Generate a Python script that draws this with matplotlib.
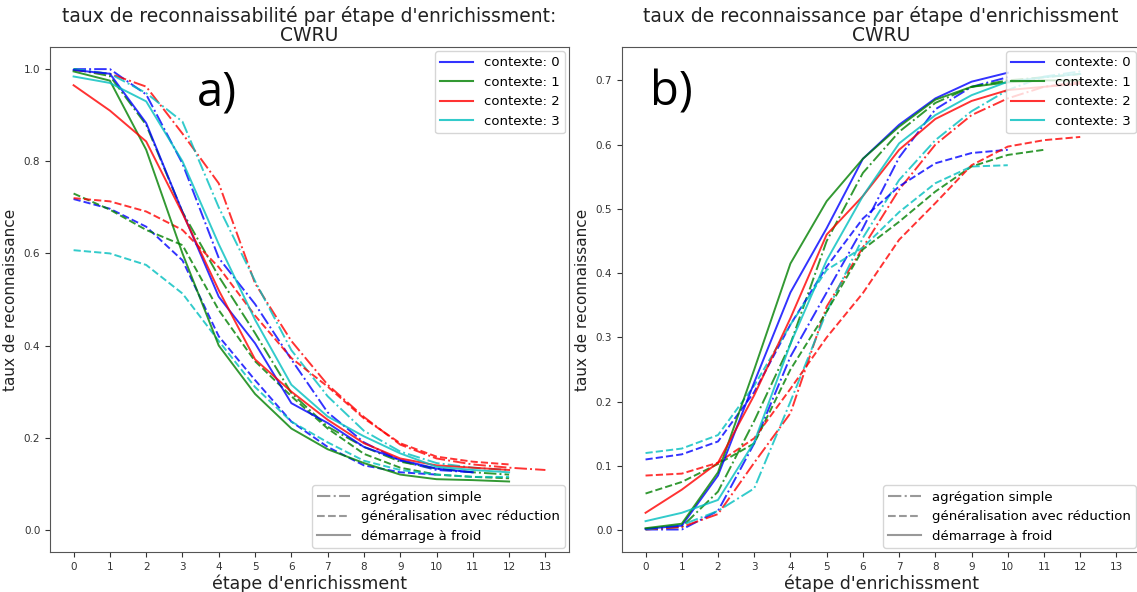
import numpy as np
import matplotlib
matplotlib.use("Agg")
from matplotlib import pyplot as plt
from matplotlib.lines import Line2D

contextes = [0, 1, 2, 3]
couleurs = ['b', 'g', 'r', 'c']

# ---- a) taux de reconnaissabilite (CWRU) ----
a_agg_0 = [1.0, 1.0, 0.945, 0.795, 0.59, 0.49, 0.37, 0.255, 0.19, 0.15, 0.13, 0.125]
a_agg_1 = [1.0, 0.985, 0.879, 0.69, 0.55, 0.427, 0.297, 0.224, 0.18, 0.148, 0.133, 0.125, 0.12]
a_agg_2 = [0.998, 0.99, 0.962, 0.86, 0.752, 0.535, 0.41, 0.315, 0.245, 0.185, 0.155, 0.142, 0.135, 0.13]
a_agg_3 = [1.0, 0.99, 0.948, 0.886, 0.70, 0.54, 0.39, 0.29, 0.215, 0.17, 0.145, 0.135, 0.13]

a_gen_0 = [0.718, 0.697, 0.658, 0.585, 0.42, 0.325, 0.235, 0.18, 0.14, 0.125, 0.12]
a_gen_1 = [0.73, 0.695, 0.651, 0.618, 0.477, 0.366, 0.29, 0.22, 0.165, 0.135, 0.12, 0.115, 0.112]
a_gen_2 = [0.72, 0.713, 0.691, 0.651, 0.57, 0.465, 0.373, 0.311, 0.242, 0.188, 0.159, 0.148, 0.142]
a_gen_3 = [0.607, 0.60, 0.575, 0.513, 0.41, 0.31, 0.235, 0.19, 0.15, 0.13, 0.12, 0.115, 0.115]

a_froid_0 = [0.998, 0.99, 0.883, 0.69, 0.506, 0.405, 0.275, 0.232, 0.18, 0.152, 0.133, 0.125]
a_froid_1 = [0.995, 0.975, 0.825, 0.60, 0.40, 0.295, 0.22, 0.175, 0.145, 0.12, 0.11, 0.108, 0.105]
a_froid_2 = [0.965, 0.91, 0.843, 0.687, 0.52, 0.37, 0.30, 0.239, 0.188, 0.155, 0.14, 0.135, 0.13]
a_froid_3 = [0.984, 0.97, 0.93, 0.80, 0.62, 0.456, 0.315, 0.246, 0.203, 0.166, 0.137, 0.13, 0.125]

# ---- b) taux de reconnaissance (CWRU) ----
b_agg_0 = [0.001, 0.001, 0.03, 0.135, 0.27, 0.37, 0.47, 0.58, 0.655, 0.69, 0.705]
b_agg_1 = [0.002, 0.005, 0.06, 0.17, 0.29, 0.45, 0.556, 0.62, 0.665, 0.69, 0.70, 0.705, 0.71]
b_agg_2 = [0.001, 0.005, 0.025, 0.105, 0.182, 0.348, 0.44, 0.53, 0.60, 0.646, 0.672, 0.69, 0.698]
b_agg_3 = [0.001, 0.008, 0.03, 0.065, 0.20, 0.34, 0.455, 0.545, 0.607, 0.652, 0.685, 0.706, 0.714]

b_gen_0 = [0.11, 0.118, 0.138, 0.215, 0.32, 0.41, 0.485, 0.535, 0.571, 0.587, 0.592]
b_gen_1 = [0.057, 0.075, 0.103, 0.135, 0.25, 0.34, 0.437, 0.48, 0.527, 0.566, 0.584, 0.592]
b_gen_2 = [0.085, 0.088, 0.105, 0.143, 0.22, 0.30, 0.369, 0.452, 0.509, 0.568, 0.597, 0.607, 0.612]
b_gen_3 = [0.12, 0.127, 0.148, 0.225, 0.32, 0.405, 0.44, 0.495, 0.54, 0.566, 0.568]

b_froid_0 = [0.002, 0.007, 0.085, 0.23, 0.37, 0.47, 0.578, 0.631, 0.672, 0.698, 0.712]
b_froid_1 = [0.003, 0.01, 0.09, 0.25, 0.415, 0.512, 0.578, 0.628, 0.670, 0.690, 0.697, 0.70, 0.70]
b_froid_2 = [0.027, 0.063, 0.105, 0.21, 0.33, 0.46, 0.52, 0.592, 0.64, 0.668, 0.685, 0.69, 0.695]
b_froid_3 = [0.014, 0.027, 0.047, 0.137, 0.29, 0.42, 0.52, 0.602, 0.646, 0.677, 0.698, 0.705, 0.71]

styles = ['-.', '--', '-']
noms_styles = ['agrégation simple', 'généralisation avec réduction', 'démarrage à froid']

panneaux = [
    ([a_agg_0, a_agg_1, a_agg_2, a_agg_3],
     [a_gen_0, a_gen_1, a_gen_2, a_gen_3],
     [a_froid_0, a_froid_1, a_froid_2, a_froid_3]),
    ([b_agg_0, b_agg_1, b_agg_2, b_agg_3],
     [b_gen_0, b_gen_1, b_gen_2, b_gen_3],
     [b_froid_0, b_froid_1, b_froid_2, b_froid_3]),
]
titres = ["taux de reconnaissabilité par étape d'enrichissment:\nCWRU",
          "taux de reconnaissance par étape d'enrichissment\nCWRU"]
lettres = ['a)', 'b)']

fig = plt.figure(figsize=(11.37, 5.92), dpi=100)
ax1 = fig.add_axes([50/1137, 40/592, 519/1137, 505/592])
ax2 = fig.add_axes([622/1137, 40/592, 518/1137, 505/592])

for ax, series, titre, lettre in zip([ax1, ax2], panneaux, titres, lettres):
    for style, groupe in zip(styles, series):
        for couleur, valeurs in zip(couleurs, groupe):
            ax.plot(np.arange(len(valeurs)), valeurs, style, color=couleur,
                    alpha=0.8, lw=1.4)
    ax.set_xticks(np.arange(14))
    ax.set_xlim(-0.65, 13.65)
    ax.tick_params(labelsize=7.5, colors='#333333')
    ax.set_xlabel("étape d'enrichissment", fontsize=12.5, color='#222222', labelpad=2)
    ax.set_ylabel("taux de reconnaissance", fontsize=11, color='#222222')
    ax.set_title(titre, fontsize=13.5, color='#222222', pad=4, linespacing=1.0)
    for s in ax.spines.values():
        s.set_color('#555555')

    h1 = [Line2D([0], [0], color=c, alpha=0.8, lw=1.5) for c in couleurs]
    leg1 = ax.legend(h1, ['contexte: %d' % k for k in contextes],
                     loc='upper right', fontsize=9.5, borderaxespad=0.3,
                     handlelength=2.5)
    ax.add_artist(leg1)
    h2 = [Line2D([0], [0], color='gray', alpha=0.8, lw=1.5, linestyle=s) for s in styles]
    ax.legend(h2, noms_styles, loc='lower right', fontsize=9.5,
              borderaxespad=0.3, handlelength=2.5)

ax1.set_ylim(-0.048, 1.048)
ax2.set_ylim(-0.034, 0.752)
ax1.set_yticks([0.0, 0.2, 0.4, 0.6, 0.8, 1.0])

fig.text(217/1137, 1 - 93/592, 'a)', fontsize=34, family='Open Sans',
         ha='center', va='center')
fig.text(671/1137, 1 - 93/592, 'b)', fontsize=34, family='Open Sans',
         ha='center', va='center')

plt.savefig('out.png', dpi=100)
